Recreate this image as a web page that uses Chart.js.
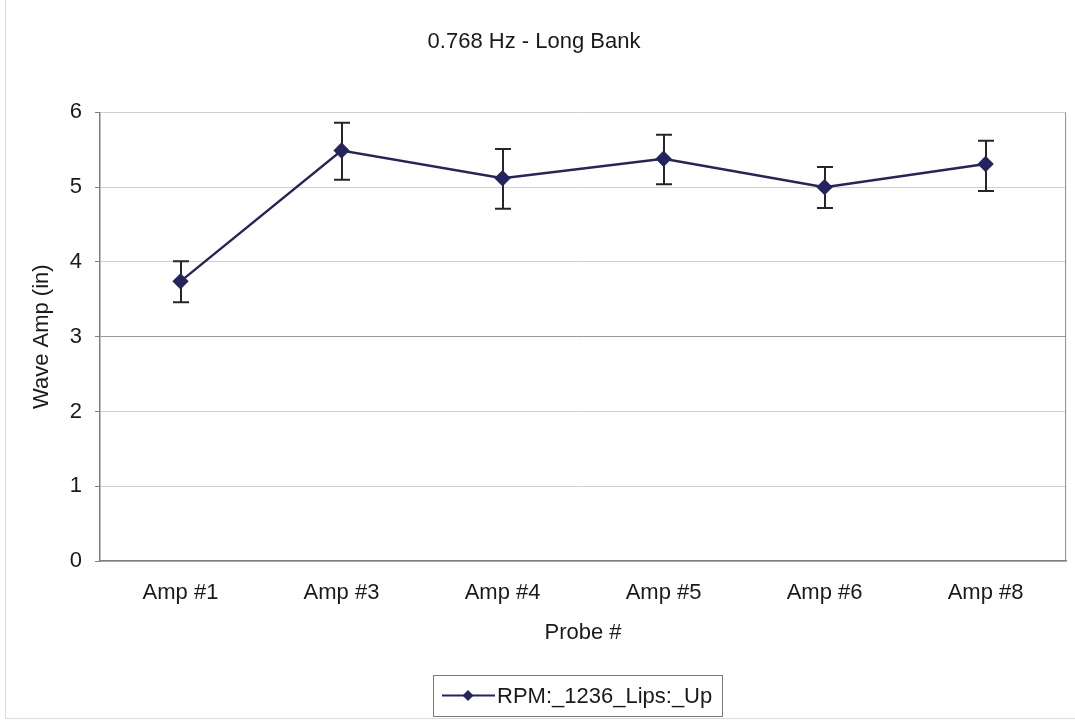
<!DOCTYPE html>
<html>
<head>
<meta charset="utf-8">
<script src="https://cdn.jsdelivr.net/npm/chart.js@4.4.0/dist/chart.umd.min.js"></script>
<style>
    html, body { margin: 0; padding: 0; background: #fff; }
    #wrap { width: 1075px; height: 723px; }
</style>
</head>
<body>
<div id="wrap"><canvas id="chart" width="1075" height="723"></canvas></div>
<script>
// Data
const probes = ['Amp #1', 'Amp #3', 'Amp #4', 'Amp #5', 'Amp #6', 'Amp #8'];
const waveAmp = [3.74, 5.49, 5.12, 5.38, 5.00, 5.31];
const errUpper = [4.01, 5.86, 5.51, 5.70, 5.27, 5.62];
const errLower = [3.46, 5.10, 4.71, 5.04, 4.72, 4.95];
const yTicks = [0, 1, 2, 3, 4, 5, 6];
const seriesName = 'RPM:_1236_Lips:_Up';

const FONT = "'Liberation Sans', Arial, sans-serif";
const lineColor = '#24245f';

// white background + faint outer frame
const framePlugin = {
    id: 'frame',
    beforeDraw(chart) {
        const ctx = chart.ctx;
        ctx.save();
        ctx.fillStyle = '#fff';
        ctx.fillRect(0, 0, chart.width, chart.height);
        ctx.strokeStyle = '#dcdcdc';
        ctx.lineWidth = 1;
        ctx.beginPath();
        ctx.moveTo(5.5, 0);
        ctx.lineTo(5.5, 718.5);
        ctx.lineTo(chart.width, 718.5);
        ctx.stroke();
        ctx.restore();
    },
    afterDraw(chart) {
        // right border of the plot area
        const a = chart.chartArea;
        const ctx = chart.ctx;
        ctx.save();
        ctx.strokeStyle = '#8c8c8c';
        ctx.lineWidth = 1;
        ctx.beginPath();
        ctx.moveTo(a.right - 0.5, a.top);
        ctx.lineTo(a.right - 0.5, a.bottom);
        ctx.stroke();
        ctx.restore();
    }
};

// vertical error bars with caps
const errorBars = {
    id: 'errorBars',
    beforeDatasetsDraw(chart) {
        const ctx = chart.ctx;
        const x = chart.scales.x, y = chart.scales.y;
        ctx.save();
        ctx.strokeStyle = '#262626';
        ctx.lineWidth = 2;
        for (let i = 0; i < waveAmp.length; i++) {
            const px = Math.round(x.getPixelForValue(i));
            const top = y.getPixelForValue(errUpper[i]);
            const bot = y.getPixelForValue(errLower[i]);
            ctx.beginPath();
            ctx.moveTo(px, top);
            ctx.lineTo(px, bot);
            ctx.moveTo(px - 8, top);
            ctx.lineTo(px + 8, top);
            ctx.moveTo(px - 8, bot);
            ctx.lineTo(px + 8, bot);
            ctx.stroke();
        }
        ctx.restore();
    }
};

// boxed legend below the axis title
const boxLegend = {
    id: 'boxLegend',
    afterDraw(chart) {
        const ctx = chart.ctx;
        const bx = 433, by = 675, bw = 289, bh = 41;
        const cy = by + bh / 2;
        ctx.save();
        ctx.strokeStyle = '#7a7a7a';
        ctx.lineWidth = 1;
        ctx.strokeRect(bx + 0.5, by + 0.5, bw, bh);
        ctx.strokeStyle = lineColor;
        ctx.lineWidth = 2.2;
        ctx.beginPath();
        ctx.moveTo(bx + 9, cy);
        ctx.lineTo(bx + 62, cy);
        ctx.stroke();
        ctx.fillStyle = lineColor;
        ctx.beginPath();
        const mx = bx + 35, r = 5.5;
        ctx.moveTo(mx, cy - r);
        ctx.lineTo(mx + r, cy);
        ctx.lineTo(mx, cy + r);
        ctx.lineTo(mx - r, cy);
        ctx.closePath();
        ctx.fill();
        ctx.fillStyle = '#1a1a1a';
        ctx.font = '22px ' + FONT;
        ctx.textBaseline = 'middle';
        ctx.textAlign = 'left';
        ctx.fillText(seriesName, bx + 64, cy + 1);
        ctx.restore();
    }
};

new Chart(document.getElementById('chart'), {
    type: 'line',
    data: {
        labels: probes,
        datasets: [{
            label: seriesName,
            data: waveAmp,
            borderColor: lineColor,
            backgroundColor: lineColor,
            borderWidth: 2.4,
            pointStyle: 'rectRot',
            pointRadius: 6.5,
            pointBackgroundColor: lineColor,
            pointBorderColor: lineColor,
            tension: 0
        }]
    },
    options: {
        responsive: false,
        animation: false,
        layout: { padding: { left: 0, right: 7, top: 0, bottom: 0 } },
        plugins: {
            legend: { display: false },
            tooltip: { enabled: false },
            title: {
                display: true,
                text: '0.768 Hz - Long Bank',
                color: '#1a1a1a',
                font: { family: FONT, size: 22, weight: 'normal' },
                padding: { top: 29, bottom: 57 }
            }
        },
        scales: {
            x: {
                offset: true,
                grid: { display: false, drawTicks: false },
                border: { display: true, color: '#7f7f7f', width: 1.5 },
                ticks: {
                    color: '#1a1a1a',
                    font: { family: FONT, size: 22 },
                    padding: 19,
                    maxRotation: 0
                },
                title: {
                    display: true,
                    text: 'Probe #',
                    color: '#1a1a1a',
                    font: { family: FONT, size: 22 },
                    padding: { top: 0, bottom: 77 }
                },
                afterFit(scale) { scale.height = 162; }
            },
            y: {
                min: 0,
                max: 6,
                afterBuildTicks(scale) { scale.ticks = yTicks.map(v => ({ value: v })); },
                grid: {
                    color: ctx => (ctx.tick && ctx.tick.value === 3) ? '#9a9a9a' : '#cfcfcf',
                    tickColor: '#7f7f7f',
                    tickLength: 5,
                    lineWidth: 1
                },
                border: { display: true, color: '#7f7f7f', width: 1.5 },
                ticks: {
                    color: '#1a1a1a',
                    font: { family: FONT, size: 22 },
                    padding: 13
                },
                title: {
                    display: true,
                    text: 'Wave Amp (in)',
                    color: '#1a1a1a',
                    font: { family: FONT, size: 22 },
                    padding: { top: 29, bottom: 0 }
                },
                afterFit(scale) { scale.width = 100; }
            }
        }
    },
    plugins: [framePlugin, errorBars, boxLegend]
});
</script>
</body>
</html>
